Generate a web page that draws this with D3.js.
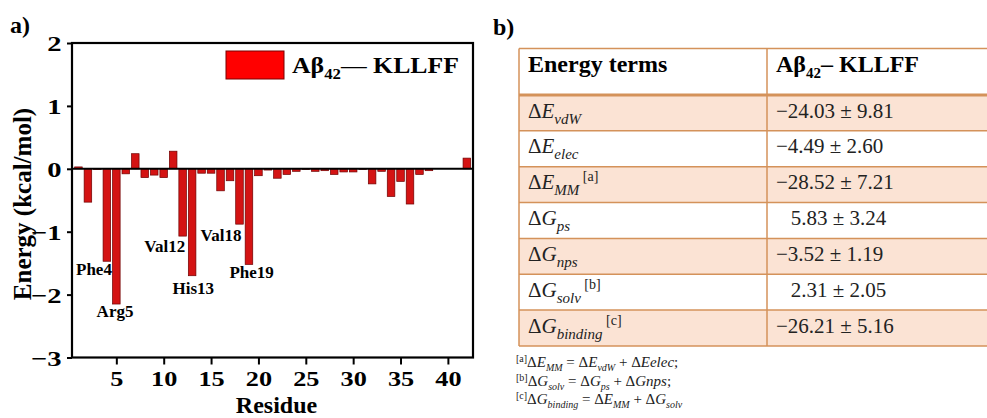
<!DOCTYPE html>
<html><head><meta charset="utf-8">
<script src="https://cdn.jsdelivr.net/npm/d3@7"></script>
<style>
body{margin:0;background:#fff;}
svg{display:block;font-family:"Liberation Serif","Times New Roman",serif;}
svg text{white-space:pre;font-family:"Liberation Serif","Times New Roman",serif;}
</style></head>
<body><svg id="c" width="987" height="418"></svg>
<script>
// ---- data ----
const residues = [1,2,3,4,5,6,7,8,9,10,11,12,13,14,15,16,17,18,19,20,21,22,23,24,25,26,27,28,29,30,31,32,33,34,35,36,37,38,39,40,41,42];
const energies = [0.03,-0.53,-0.01,-1.47,-2.15,-0.08,0.24,-0.14,-0.10,-0.14,0.28,-1.07,-1.70,-0.07,-0.07,-0.35,-0.19,-0.88,-1.52,-0.11,-0.02,-0.15,-0.09,-0.04,-0.01,-0.04,-0.03,-0.09,-0.05,-0.05,-0.01,-0.24,-0.04,-0.44,-0.20,-0.56,-0.09,-0.03,0,0,0,0.17];
const yTicks = [-3,-2,-1,0,1,2];
const xTicks = [5,10,15,20,25,30,35,40];
const annotNames = ["Phe4","Arg5","Val12","His13","Val18","Phe19"];
const annotResidues = [4,5,12,13,18,19];
const termMain = ["E","E","E","G","G","G","G"];
const termSub = ["vdW","elec","MM","ps","nps","solv","binding"];
const termNote = ["","","[a]","","","[b]","[c]"];
const termValues = ["\u221224.03 \u00b1 9.81","\u22124.49 \u00b1 2.60","\u221228.52 \u00b1 7.21","\u2007\u20095.83 \u00b1 3.24","\u22123.52 \u00b1 1.19","\u2007\u20092.31 \u00b1 2.05","\u221226.21 \u00b1 5.16"];

// ---- layout / style (not data) ----
const annotOffset = {Phe4:[-12.9,13.7],Arg5:[-1.3,12.7],Val12:[-17.9,15.6],His13:[1.2,18.3],Val18:[-18.5,16.5],Phe19:[2.7,14]};
const svg = d3.select("#c");
const L=72, R=473, T=43, B=357.5;
const x = d3.scaleLinear().domain([0.32,42.65]).range([L,R]);
const y = d3.scaleLinear().domain([-3,2]).range([B,T]);
const bw = x(0.8)-x(0);

// panel labels
svg.append("text").attr("x",10).attr("y",33).attr("font-size",24).attr("font-weight","bold").text("a)");
svg.append("text").attr("x",493).attr("y",35).attr("font-size",24).attr("font-weight","bold").text("b)");

// bars
svg.append("g").selectAll("rect").data(residues).join("rect")
  .attr("x",(d)=>x(d)-bw/2)
  .attr("y",(d,i)=>y(Math.max(0,energies[i])))
  .attr("width",bw)
  .attr("height",(d,i)=>Math.abs(y(energies[i])-y(0)))
  .attr("fill","#d41313").attr("stroke","#6e0000").attr("stroke-width",0.7);

// zero line
svg.append("line").attr("x1",L).attr("x2",R).attr("y1",y(0)).attr("y2",y(0)).attr("stroke","#000").attr("stroke-width",2);

// frame
svg.append("rect").attr("x",L).attr("y",T).attr("width",R-L).attr("height",B-T).attr("fill","none").attr("stroke","#000").attr("stroke-width",2.2);

// axes
const gx = svg.append("g").attr("transform",`translate(0,${B})`)
  .call(d3.axisBottom(x).tickValues(xTicks).tickSize(7).tickFormat(d3.format("d")));
gx.attr("font-family",null).attr("font-size",null);
gx.select(".domain").remove();
gx.selectAll("line").attr("stroke-width",2);
gx.selectAll("text").attr("y",29).attr("dy",null).style("font-size","21px").style("font-weight","bold")
  .attr("fill","#000").attr("transform","scale(1.25,1)");

const gy = svg.append("g").attr("transform",`translate(${L},0)`)
  .call(d3.axisLeft(y).tickValues(yTicks).tickSize(5).tickFormat(d3.format("d")));
gy.attr("font-family",null).attr("font-size",null);
gy.select(".domain").remove();
gy.selectAll("line").attr("stroke-width",2);
gy.selectAll("text").attr("x",-8).attr("dy","0.36em").style("font-size","22px").style("font-weight","bold")
  .attr("fill","#000").attr("transform","scale(1.3,1)");

// axis titles
svg.append("text").attr("x",(L+R)/2+4).attr("y",412.5).attr("text-anchor","middle").attr("font-size",24).attr("font-weight","bold").text("Residue");
svg.append("text").attr("transform","translate(31,204) rotate(-90)").attr("text-anchor","middle").attr("font-size",25).attr("font-weight","bold").text("Energy (kcal/mol)");

// annotations
svg.append("g").selectAll("text").data(annotNames).join("text")
  .attr("x",(d,i)=>x(annotResidues[i])+annotOffset[d][0])
  .attr("y",(d,i)=>y(energies[annotResidues[i]-1])+annotOffset[d][1])
  .attr("text-anchor","middle").attr("font-size",17).attr("font-weight","bold").text(d=>d);

// legend
svg.append("rect").attr("x",226).attr("y",51).attr("width",58).attr("height",28).attr("fill","#ff0000").attr("stroke","#7a0000").attr("stroke-width",1);
const lg = svg.append("text").attr("transform","translate(292,73) scale(1.12,1)").attr("font-size",23).attr("font-weight","bold");
lg.append("tspan").text("A\u03b2");
lg.append("tspan").attr("font-size",15).attr("dy",6).text("42");
lg.append("tspan").attr("dy",-6).attr("font-weight","normal").text("\u2014");
lg.append("tspan").text(" KLLFF");

// ---- table ----
const tX0=519, tXd=767, tX1=990, tTop=48.5, tHead=95, rowH=35.85;
const tb = svg.append("g");
const rows = termSub.map((d,i)=>i);
tb.selectAll("rect.row").data(rows).join("rect").attr("class","row")
  .attr("x",tX0).attr("y",i=>tHead+i*rowH).attr("width",tX1-tX0).attr("height",rowH)
  .attr("fill",i=>i%2===0?"#fbe3d4":"#fff");
const bc="#d4925a";
const hl=[tTop].concat(rows.map(i=>tHead+(i+1)*rowH));
tb.selectAll("line.h").data(hl).join("line").attr("class","h")
  .attr("x1",tX0).attr("x2",tX1).attr("y1",d=>d).attr("y2",d=>d).attr("stroke",bc).attr("stroke-width",1.5);
tb.append("line").attr("x1",tX0).attr("x2",tX1).attr("y1",tHead).attr("y2",tHead).attr("stroke",bc).attr("stroke-width",3);
[tX0,tXd].forEach(v=>tb.append("line").attr("x1",v).attr("x2",v).attr("y1",tTop).attr("y2",tHead+7*rowH).attr("stroke",bc).attr("stroke-width",1.5));

// header
tb.append("text").attr("x",528).attr("y",72).attr("font-size",24).attr("font-weight","bold").text("Energy terms");
const h2 = tb.append("text").attr("x",776).attr("y",72).attr("font-size",24).attr("font-weight","bold");
h2.append("tspan").text("A\u03b2");
h2.append("tspan").attr("font-size",15).attr("dy",6).text("42");
h2.append("tspan").attr("dy",-6).text("\u2013 KLLFF");

// body rows
rows.forEach(i=>{
  const by = tHead+i*rowH+22.5;
  const t = tb.append("text").attr("x",528).attr("y",by).attr("font-size",21).attr("fill","#222");
  t.append("tspan").text("\u0394");
  t.append("tspan").attr("font-style","italic").text(termMain[i]);
  t.append("tspan").attr("font-style","italic").attr("font-size",15).attr("dy",6).text(termSub[i]);
  if(termNote[i]) t.append("tspan").attr("font-size",14).attr("dy",-14).text(" "+termNote[i]);
  tb.append("text").attr("x",776).attr("y",by).attr("font-size",21).attr("fill","#222").text(termValues[i]);
});

// footnotes
const fnY=[367,385.5,404];
const fnParts = [
  [["[a]","sup"],["\u0394",""],["E","i"],["MM","isub"],[" = \u0394",""],["E","i"],["vdW","isub"],[" + \u0394",""],["Eelec","i"],[";",""]],
  [["[b]","sup"],["\u0394",""],["G","i"],["solv","isub"],[" = \u0394",""],["G","i"],["ps","isub"],[" + \u0394",""],["Gnps","i"],[";",""]],
  [["[c]","sup"],["\u0394",""],["G","i"],["binding","isub"],[" = \u0394",""],["E","i"],["MM","isub"],[" + \u0394",""],["G","i"],["solv","isub"]]
];
fnParts.forEach((parts,k)=>{
  const t = svg.append("text").attr("x",516).attr("y",fnY[k]).attr("font-size",15).attr("fill","#222");
  let cur=0;
  parts.forEach(([s,st])=>{
    const ts=t.append("tspan").text(s);
    let want = st==="isub"?4:(st==="sup"?-5:0);
    ts.attr("dy",want-cur); cur=want;
    if(st==="i"||st==="isub") ts.attr("font-style","italic");
    if(st==="isub"||st==="sup") ts.attr("font-size",10);
  });
});
</script></body></html>
